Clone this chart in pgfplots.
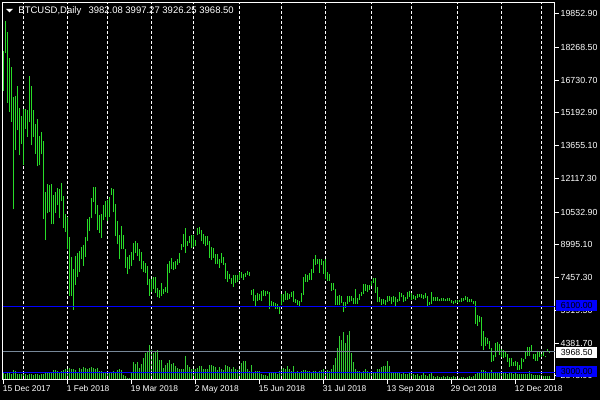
\documentclass[border=0pt]{standalone}
\usepackage{pgfplots}
\pgfplotsset{compat=1.18}
\usepackage{pgfplotstable}
\usepackage{fontspec}
\setmainfont{Liberation Sans}

\definecolor{barg}{RGB}{40,220,40}
\definecolor{volg}{RGB}{50,205,50}
\definecolor{bidgray}{RGB}{119,136,153}
\definecolor{mtblue}{RGB}{0,0,255}

\newcommand{\lab}{\fontsize{8.8bp}{10bp}\selectfont}
\newcommand{\dlab}{\fontsize{8.4bp}{10bp}\selectfont}
\newcommand{\hdr}{\fontsize{9.5bp}{11bp}\selectfont}

% daily bars, k = bar index (weekdays from 15 Dec 2017)
\pgfplotstableread{
k lo hi
0 16240 18098
1 18019 19502
2 15679 18987
3 15243 17757
4 14775 17335
5 10657 15959
6 13465 16006
7 14368 16460
8 13198 15431
9 13746 15056
10 12730 15384
11 14448 15384
12 14073 15337
13 14743 16928
14 13666 16460
15 14073 15337
16 13278 14682
17 12683 14916
18 12730 14087
19 13245 14307
20 10189 13886
21 9220 11499
22 10470 11860
23 10549 11794
24 9955 11874
25 9955 11359
26 10503 11499
27 10844 11687
28 10236 11607
29 11045 11921
30 9782 11279
31 9595 10456
32 8818 10297
33 6599 9361
34 6599 8425
35 5944 7849
36 7114 8471
37 7489 8598
38 7723 8705
39 8317 8893
40 8003 8986
41 8425 9347
42 9173 10189
43 9641 10283
44 10236 11219
45 10999 11719
46 10423 11719
47 9688 10877
48 9567 10390
49 9314 10423
50 10142 10844
51 10315 11078
52 10109 11125
53 10315 11233
54 11326 11673
55 10531 11640
56 9407 10891
57 9019 10109
58 8317 9440
59 8785 9875
60 8785 9440
61 7910 8818
62 7648 8425
63 7849 8537
64 8003 8659
65 8284 9066
66 8631 9192
67 8471 9099
68 8223 8785
69 7849 8645
70 7723 8256
71 7695 8130
72 7114 8003
73 6599 7381
74 6759 7381
75 6913 7507
76 6726 7475
77 6539 6946
78 6506 6880
79 6599 7194
80 6679 6913
81 6759 7007
82 6726 8083
83 7695 8237
84 7849 8397
85 7816 8191
86 7882 8223
87 8069 8331
88 8163 8598
89 8752 9033
90 8893 9487
91 8631 9768
92 8939 9192
93 9099 9407
94 8832 9454
95 8893 9454
96 8939 9220
97 9440 9782
98 9487 9829
99 9159 9674
100 9019 9487
101 8939 9407
102 9005 9407
103 8364 9159
104 8284 8911
105 8378 8865
106 8083 8551
107 8097 8551
108 7910 8317
109 8163 8598
110 8069 8443
111 7381 8130
112 7255 7755
113 7381 7648
114 7180 7461
115 7021 7568
116 7227 7568
117 7273 7601
118 7348 7741
119 7428 7723
120 7348 7629
121 7507 7662
122 7568 7755
123 7535 7709
124 6632 6880
125 6365 6913
126 6103 6646
127 6365 6726
128 6398 6679
129 6351 6819
130 6599 6866
131 6571 6833
132 6665 6819
133 5977 6759
134 6085 6351
135 6103 6319
136 5977 6258
137 5977 6225
138 5743 6131
139 6164 6679
140 6319 6665
141 6412 6819
142 6412 6726
143 6445 6679
144 6539 6773
145 6319 6833
146 6258 6445
147 6164 6412
148 6103 6351
149 6291 6726
150 6632 7475
151 7255 7615
152 7255 7568
153 7348 7695
154 7334 7849
155 7695 8350
156 8069 8518
157 8083 8317
158 7662 8331
159 8036 8317
160 7648 8223
161 7381 8350
162 7301 7723
163 7287 7615
164 6833 7194
165 6866 7194
166 6164 6913
167 6164 6585
168 6164 6618
169 6258 6571
170 5851 6291
171 6038 6291
172 6197 6585
173 6291 6571
174 6365 6571
175 6211 6478
176 6211 6913
177 6211 6506
178 6398 6679
179 6599 6773
180 6679 7147
181 6833 7147
182 6759 7114
183 6866 7114
184 7067 7301
185 7194 7428
186 6726 7428
187 6291 6993
188 6291 6525
189 6164 6445
190 6211 6445
191 6164 6412
192 6291 6571
193 6365 6599
194 6211 6525
195 6319 6571
196 6103 6525
197 6291 6445
198 6365 6787
199 6525 6726
200 6291 6632
201 6351 6525
202 6445 6787
203 6525 6819
204 6412 6712
205 6445 6632
206 6398 6599
207 6478 6679
208 6525 6679
209 6478 6679
210 6445 6646
211 6506 6712
212 6085 6571
213 6164 6291
214 6211 6759
215 6365 6539
216 6365 6525
217 6351 6525
218 6337 6445
219 6365 6492
220 6365 6478
221 6337 6445
222 6351 6478
223 6365 6492
224 6244 6412
225 6211 6365
226 6258 6412
227 6258 6398
228 6291 6412
229 6319 6478
230 6337 6506
231 6398 6571
232 6291 6525
233 6319 6445
234 6291 6445
235 6225 6365
236 5275 6351
237 5195 5710
238 5355 5663
239 4259 5589
240 4058 4961
241 4259 4653
242 4339 4606
243 4105 4493
244 3511 4152
245 3557 3824
246 3745 4386
247 3951 4419
248 3824 4339
249 3717 4105
250 3670 4058
251 3717 3951
252 3483 3871
253 3249 3670
254 3323 3670
255 3295 3483
256 3323 3557
257 3136 3483
258 3136 3370
259 3169 3670
260 3483 3637
261 3637 3951
262 3763 4213
263 3791 4185
264 3951 4292
265 3637 3871
266 3557 3871
267 3557 3979
268 3717 3951
269 3717 3871
270 3791 3951
271 3717 3791
272 3979 4105
273 3926.25 3997.27
}\btc

% tick volume, drawn against its own scale at the bottom of the window
\pgfplotstableread{
k v
0 6
1 5
2 6
3 6
4 5
5 9
6 8
7 5
8 5
9 5
10 5
11 5
12 4
13 5
14 5
15 4
16 5
17 5
18 4
19 5
20 5
21 6
22 6
23 7
24 6
25 9
26 9
27 8
28 7
29 8
30 9
31 10
32 12
33 11
34 10
35 10
36 9
37 6
38 11
39 10
40 12
41 11
42 10
43 11
44 12
45 11
46 10
47 11
48 8
49 8
50 7
51 6
52 6
53 7
54 7
55 8
56 7
57 9
58 10
59 9
60 4
61 3
62 1
63 1
64 6
65 17
66 15
67 17
68 11
69 15
70 21
71 26
72 28
73 34
74 29
75 26
76 27
77 29
78 19
79 19
80 11
81 14
82 16
83 19
84 15
85 16
86 13
87 11
88 10
89 10
90 10
91 23
92 14
93 12
94 10
95 11
96 10
97 11
98 13
99 13
100 10
101 10
102 10
103 14
104 14
105 13
106 12
107 9
108 12
109 10
110 9
111 14
112 13
113 12
114 10
115 12
116 10
117 9
118 13
119 16
120 18
121 18
122 10
123 8
124 14
125 7
126 8
127 8
128 8
129 5
130 4
131 4
132 3
133 7
134 6
135 6
136 7
137 5
138 8
139 10
140 11
141 10
142 13
143 10
144 8
145 13
146 7
147 8
148 7
149 8
150 9
151 9
152 8
153 8
154 7
155 8
156 8
157 7
158 8
159 9
160 10
161 8
162 9
163 8
164 10
165 14
166 21
167 31
168 43
169 39
170 47
171 36
172 44
173 48
174 26
175 17
176 10
177 8
178 8
179 7
180 8
181 10
182 8
183 7
184 8
185 7
186 7
187 10
188 10
189 12
190 13
191 13
192 18
193 13
194 6
195 6
196 7
197 6
198 6
199 5
200 6
201 5
202 5
203 6
204 5
205 5
206 4
207 5
208 3
209 4
210 6
211 4
212 3
213 5
214 7
215 3
216 2
217 3
218 2
219 2
220 3
221 2
222 3
223 2
224 2
225 3
226 2
227 2
228 1
229 2
230 2
231 1
232 2
233 3
234 2
235 3
236 5
237 6
238 6
239 9
240 9
241 8
242 6
243 6
244 9
245 7
246 7
247 6
248 7
249 7
250 6
251 6
252 5
253 6
254 6
255 5
256 6
257 5
258 5
259 5
260 5
261 5
262 5
263 8
264 5
265 4
266 4
267 4
268 4
269 4
270 3
271 3
272 3
273 3
}\vol

\begin{document}
\begin{tikzpicture}
\useasboundingbox (0,0) rectangle (600bp,400bp);
\fill[black] (0,0) rectangle (600bp,400bp);

% volumes
\begin{axis}[
    at={(2.5bp,20.5bp)}, anchor=south west,
    scale only axis, width=552bp, height=377bp,
    xmin=-0.5, xmax=275.5, ymin=0, ymax=377,
    hide axis
]
\addplot[ycomb, draw=volg, line width=1bp, mark=none] table[x=k, y=v] {\vol};
\end{axis}

% price window
\begin{axis}[
    at={(2.5bp,20.5bp)}, anchor=south west,
    scale only axis, width=552bp, height=377bp,
    xmin=-0.5, xmax=275.5, ymin=2671, ymax=20379,
    axis line style={white, line width=1bp},
    tick style={white, line width=1bp},
    tick align=outside, major tick length=4bp,
    xtick pos=bottom, ytick pos=right, yticklabel pos=right,
    xtick={0,32,64,96,128,160,192,224,256},
    xticklabels={15 Dec 2017, 1 Feb 2018, 19 Mar 2018, 2 May 2018, 15 Jun 2018,
                 31 Jul 2018, 13 Sep 2018, 29 Oct 2018, 12 Dec 2018},
    ytick={19852.9,18268.5,16730.7,15192.9,13655.1,12117.3,10532.9,8995.1,7457.3,5919.5,4381.7,2843.9},
    yticklabels={19852.90,18268.50,16730.70,15192.90,13655.10,12117.30,10532.90,8995.10,7457.30,5919.50,4381.70,2843.90},
    extra x ticks={10,32,52,74,95,118,139,161,184,204,227,249,269},
    extra x tick labels={},
    extra x tick style={xmajorgrids=true, major tick length=0pt},
    major grid style={white, line width=1bp, dash pattern=on 3bp off 2bp},
    xticklabel style={font=\dlab, text=white, anchor=north west, inner sep=0pt, xshift=-0.8bp, yshift=-1.5bp},
    yticklabel style={font=\lab, text=white, anchor=west, inner sep=0pt, xshift=2bp},
    clip=false
]
\addplot[draw=none, mark=none,
    error bars/.cd, y dir=plus, y explicit, error mark=none,
    error bar style={draw=barg, line width=1bp}]
    table[x=k, y=lo, y error expr=\thisrow{hi}-\thisrow{lo}] {\btc};

\addplot[mtblue, line width=1bp] coordinates {(-0.5,6100) (275.5,6100)};
\addplot[mtblue, line width=1bp] coordinates {(-0.5,3000) (275.5,3000)};
\addplot[bidgray, line width=1bp] coordinates {(-0.5,3968.5) (275.5,3968.5)};

\coordinate (p1) at (axis cs:275.5,6100);
\coordinate (p2) at (axis cs:275.5,3968.5);
\coordinate (p3) at (axis cs:275.5,3000);
\end{axis}

% price labels on the scale
\node[fill=mtblue, text=black, anchor=west, inner sep=0pt, minimum width=41bp, minimum height=11bp, font=\lab]
    at ([xshift=1.5bp, yshift=0.8bp]p1) {6100.00};
\node[fill=white, text=black, anchor=west, inner sep=0pt, minimum width=41bp, minimum height=11bp, font=\lab]
    at ([xshift=1.5bp, yshift=-0.4bp]p2) {3968.50};
\node[fill=mtblue, text=black, anchor=west, inner sep=0pt, minimum width=41bp, minimum height=11bp, font=\lab]
    at ([xshift=1.5bp, yshift=1bp]p3) {3000.00};

% window header
\fill[white] (6bp,391bp) -- (13bp,391bp) -- (9.5bp,387.5bp) -- cycle;
\node[anchor=base west, inner sep=0pt, text=white, font=\hdr] at (18.3bp,386bp) {BTCUSD,Daily};
\node[anchor=base west, inner sep=0pt, text=white, font=\hdr] at (88.3bp,386bp) {3982.08 3997.27 3926.25 3968.50};
\end{tikzpicture}
\end{document}
